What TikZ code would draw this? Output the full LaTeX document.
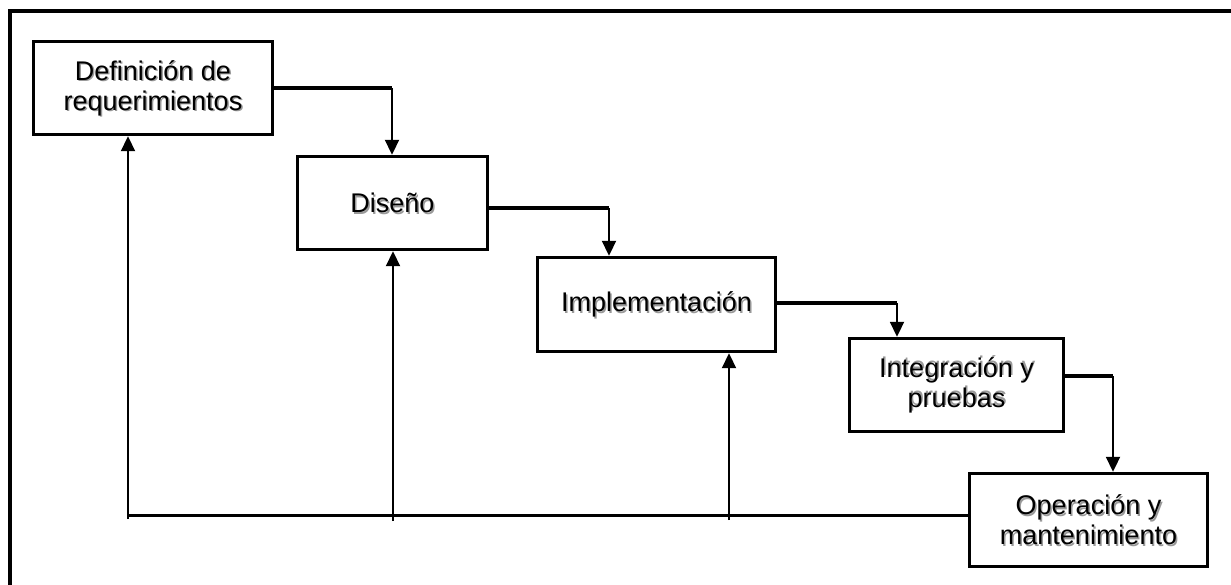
\documentclass[tikz,border=0pt]{standalone}
\usepackage{fontspec}
\setmainfont{Liberation Sans}
\usetikzlibrary{arrows.meta,calc}
\begin{document}
\begin{tikzpicture}[x=1pt,y=-1pt,
  phase/.style={draw,line width=3.4pt,inner sep=0pt,align=center,
    font=\fontsize{27}{30}\selectfont},
  shade/.style={inner sep=0pt,align=center,text=black!40,
    font=\fontsize{27}{30}\selectfont},
  hline/.style={line width=3.2pt},
  vline/.style={line width=1.9pt},
  tip/.style={-{Triangle[width=14pt,length=15pt]}}
]
\useasboundingbox (0,0) rectangle (1231,584);
% outer frame, open beyond the right and bottom edges
\draw[line width=3.6pt] (10,11) rectangle (1260,620);

% text shadows
\node[shade] (s1) at (154.5,89.5) {Definición de\\requerimientos};
\node[shade] (s2) at (394,204.5) {Diseño};
\node[shade] (s3) at (658,306) {Implementación};
\node[shade] (s4) at (958,383.5) {Integración y\\pruebas};
\node[shade] (s5) at (1090,521.5) {Operación y\\mantenimiento};

% phases
\node[phase,minimum width=239pt,minimum height=93pt] (b1) at (153,88) {Definición de\\requerimientos};
\node[phase,minimum width=190pt,minimum height=93pt] (b2) at (392.5,203) {Diseño};
\node[phase,minimum width=238pt,minimum height=94pt] (b3) at (656.5,304.5) {Implementación};
\node[phase,minimum width=214pt,minimum height=93pt] (b4) at (956.5,385) {Integración y\\pruebas};
\node[phase,minimum width=238pt,minimum height=93pt] (b5) at (1088.5,520) {Operación y\\mantenimiento};

% forward flow
\coordinate (c12) at (392,88);
\coordinate (c23) at (609,208);
\coordinate (c34) at (897,303);
\coordinate (c45) at (1113,376);
\draw[hline] (b1.east |- c12) -- (c12);
\draw[vline,tip] (c12) -- (c12 |- b2.north);
\draw[hline] (b2.east |- c23) -- (c23);
\draw[vline,tip] (c23) -- (c23 |- b3.north);
\draw[hline] (b3.east |- c34) -- (c34);
\draw[vline,tip] (c34) -- (c34 |- b4.north);
\draw[hline] (b4.east |- c45) -- (c45);
\draw[vline,tip] (c45) -- (c45 |- b5.north);

% feedback
\coordinate (r5) at (968,515.5);
\coordinate (r1) at (128,515.5);
\coordinate (f1) at (128,519);
\coordinate (f2) at (393,521);
\coordinate (f3) at (729,520);
\draw[hline] (b5.west |- r5) -- (r1);
\draw[vline,tip] (f1) -- (f1 |- b1.south);
\draw[vline,tip] (f2) -- (f2 |- b2.south);
\draw[vline,tip] (f3) -- (f3 |- b3.south);
\end{tikzpicture}
\end{document}
